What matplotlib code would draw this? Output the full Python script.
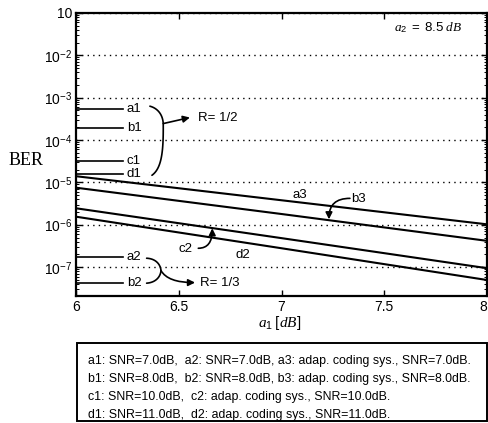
import numpy as np
import matplotlib
matplotlib.use("Agg")
import matplotlib.pyplot as plt
from matplotlib.patches import Rectangle
from matplotlib.ticker import LogLocator, NullFormatter

plt.rcParams['font.family'] = ['Liberation Sans', 'DejaVu Sans']
plt.rcParams['mathtext.fontset'] = 'custom'
plt.rcParams['mathtext.rm'] = 'Liberation Sans'
plt.rcParams['mathtext.it'] = 'Liberation Serif:italic'

# a1 [dB] vs BER
x_db = [6.0, 7.0, 8.0]
ber_a3 = [1.4e-5, 3.8e-6, 1.03e-6]
ber_b3 = [7.5e-6, 1.8e-6, 4.2e-7]
ber_c2 = [2.45e-6, 4.85e-7, 9.5e-8]
ber_d2 = [1.55e-6, 2.8e-7, 5.0e-8]

# constant BER of the fixed-rate systems (short stubs at the left)
stub_x = [6.0, 6.225]
stub_names = ['a1', 'b1', 'c1', 'd1', 'a2', 'b2']
stub_ber = [5.43e-4, 1.94e-4, 3.24e-5, 1.57e-5, 1.78e-7, 4.2e-8]

xtick_vals = [6, 6.5, 7, 7.5, 8]
xtick_labels = ['6', '6.5', '7', '7.5', '8']
ytick_vals = [1e-7, 1e-6, 1e-5, 1e-4, 1e-3, 1e-2, 1e-1]
ytick_labels = [r'$10^{-7}$', r'$10^{-6}$', r'$10^{-5}$', r'$10^{-4}$',
                r'$10^{-3}$', r'$10^{-2}$', '10']

legend_lines = [
    "a1: SNR=7.0dB,  a2: SNR=7.0dB, a3: adap. coding sys., SNR=7.0dB.",
    "b1: SNR=8.0dB,  b2: SNR=8.0dB, b3: adap. coding sys., SNR=8.0dB.",
    "c1: SNR=10.0dB,  c2: adap. coding sys., SNR=10.0dB.",
    "d1: SNR=11.0dB,  d2: adap. coding sys., SNR=11.0dB.",
]


def brace(ax, pts):
    """cubic bezier pieces in (x, log10 BER) space"""
    t = np.linspace(0, 1, 30)[:, None]
    xs, ys = [], []
    for i in range(0, len(pts) - 1, 3):
        p0, p1, p2, p3 = [np.array(p) for p in pts[i:i + 4]]
        c = (1-t)**3*p0 + 3*(1-t)**2*t*p1 + 3*(1-t)*t**2*p2 + t**3*p3
        xs.extend(c[:, 0])
        ys.extend(c[:, 1])
    ax.plot(xs, 10**np.array(ys), color='k', lw=1.2, solid_capstyle='round')


fig = plt.figure(figsize=(4.89, 4.23), dpi=100)
ax = fig.add_axes([0.1564, 0.3002, 0.8389, 0.6691])

for y in (ber_a3, ber_b3, ber_c2, ber_d2):
    ax.plot(x_db, y, color='k', lw=1.5)

for name, b in zip(stub_names, stub_ber):
    ax.plot(stub_x, [b, b], color='k', lw=1.2)
    ax.text(6.245, b, name, ha='left', va='center', fontsize=9.5)

ax.set_yscale('log')
ax.set_xlim(6, 8)
ax.set_ylim(10**-7.68, 1e-1)
ax.set_xticks(xtick_vals)
ax.set_xticklabels(xtick_labels)
ax.set_yticks(ytick_vals)
ax.set_yticklabels(ytick_labels)
ax.yaxis.set_minor_locator(LogLocator(base=10, subs=range(2, 10), numticks=20))
ax.yaxis.set_minor_formatter(NullFormatter())
ax.tick_params(which='both', direction='in', top=True, right=True, labelsize=10)
ax.tick_params(which='major', length=4, width=1, pad=3)
ax.tick_params(which='minor', length=2, width=0.7)
ax.get_xticklabels()[-1].set_horizontalalignment('right')
ax.yaxis.grid(True, which='major', linestyle=(0, (1, 3)), color='k', lw=1.0)
for s in ax.spines.values():
    s.set_linewidth(1.6)

# R = 1/2 brace and arrow
brace(ax, [(6.358, -3.20), (6.397, -3.25), (6.422, -3.41), (6.423, -3.625),
           (6.424, -4.24), (6.417, -4.66), (6.368, -4.83)])
ax.annotate('', xy=(6.553, 10**-3.467), xytext=(6.423, 10**-3.61),
            arrowprops=dict(arrowstyle='-|>', color='k', lw=1.2,
                            shrinkA=0, shrinkB=0, mutation_scale=10))
ax.text(6.592, 10**-3.49, 'R= 1/2', ha='left', va='center', fontsize=9.5)

# R = 1/3 brace and arrow
brace(ax, [(6.342, -6.788), (6.39, -6.80), (6.41, -6.95), (6.412, -7.08),
           (6.41, -7.21), (6.39, -7.36), (6.342, -7.377)])
ax.annotate('', xy=(6.578, 10**-7.363), xytext=(6.412, 10**-7.08),
            arrowprops=dict(arrowstyle='-|>', color='k', lw=1.2,
                            shrinkA=0, shrinkB=0, mutation_scale=10,
                            connectionstyle='angle3,angleA=-60,angleB=0'))
ax.text(6.602, 10**-7.363, 'R= 1/3', ha='left', va='center', fontsize=9.5)

# curve labels
ax.text(7.09, 10**-5.297, 'a3', ha='center', va='center', fontsize=9.5)
ax.text(6.812, 10**-6.71, 'd2', ha='center', va='center', fontsize=9.5)
ax.text(6.53, 10**-6.576, 'c2', ha='center', va='center', fontsize=9.5)
ax.annotate('', xy=(6.662, 10**-6.082), xytext=(6.594, 10**-6.553),
            arrowprops=dict(arrowstyle='-|>', color='k', lw=1.2,
                            shrinkA=0, shrinkB=0, mutation_scale=10,
                            connectionstyle='angle3,angleA=0,angleB=90'))
ax.text(7.340, 10**-5.398, 'b3', ha='left', va='center', fontsize=9.5)
ax.annotate('', xy=(7.231, 10**-5.870), xytext=(7.333, 10**-5.375),
            arrowprops=dict(arrowstyle='-|>', color='k', lw=1.2,
                            shrinkA=0, shrinkB=0, mutation_scale=10,
                            connectionstyle='angle3,angleA=180,angleB=-90'))

fig.text(0.875, 0.9338, r'$a_2\ =\ 8.5\ dB$', ha='center', va='center',
         fontsize=9.5)
fig.text(0.0528, 0.6217, 'BER', ha='center', va='center', fontsize=13,
         family='Liberation Serif')
fig.text(0.5726, 0.2364, r'$a_1\;[dB]$', ha='center', va='center',
         fontsize=11)

# legend box under the axes
fig.patches.append(Rectangle((0.158, 0.0047), 0.838, 0.1844, fill=False,
                             lw=1.4, ec='k', transform=fig.transFigure,
                             figure=fig))
for i, line in enumerate(legend_lines):
    fig.text(0.1806, 0.1466 - i * 0.0425, line, ha='left', va='center',
             fontsize=8.9)

fig.savefig("out.png", dpi=100)
